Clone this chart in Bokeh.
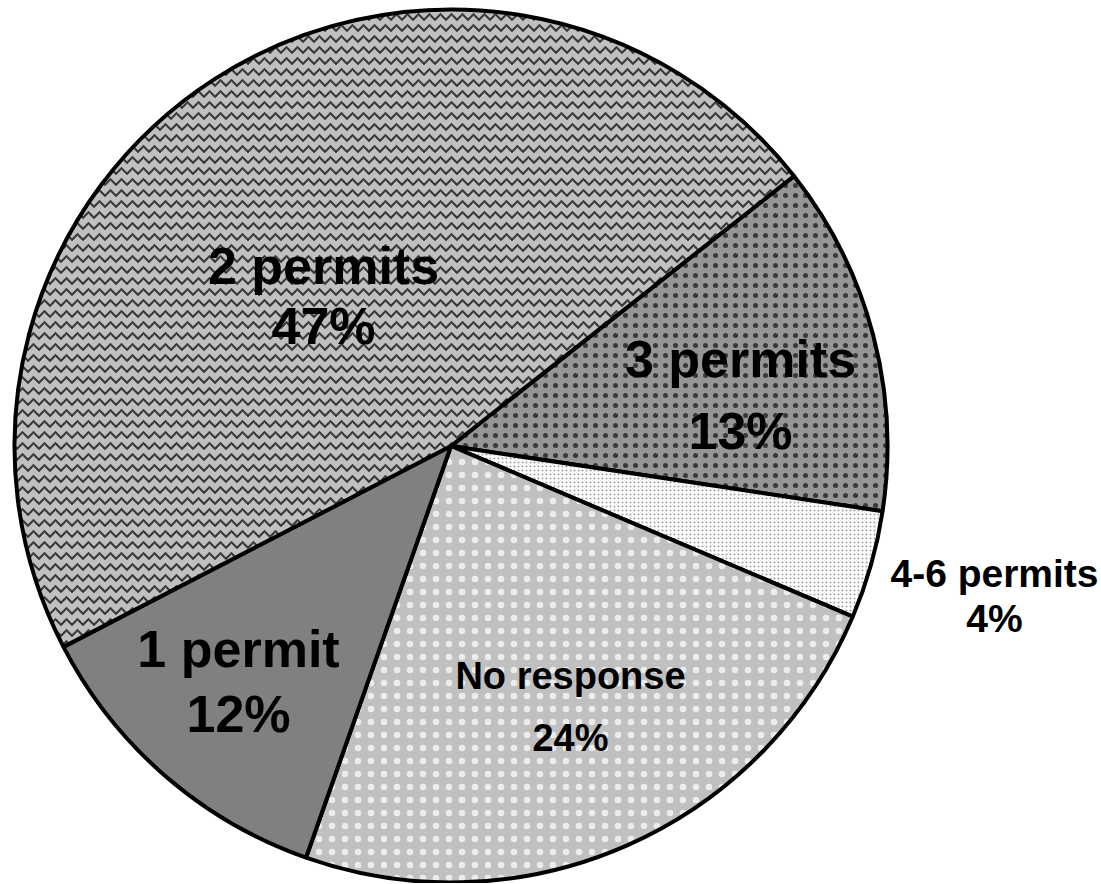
import math
from bokeh.plotting import figure
from bokeh.models import Range1d
from bokeh.core.properties import value
from bokeh.embed import file_html
from bokeh.resources import INLINE

# Data (clockwise order starting at the top-right boundary)
categories = ["3 permits", "4-6 permits", "No response", "1 permit", "2 permits"]
shares = [13, 4, 24, 12, 47]
pct_labels = ["13%", "4%", "24%", "12%", "47%"]

W, H = 1100, 883
TOT_H = 884
p = figure(width=W, height=H, output_backend="svg", toolbar_location=None,
           x_range=Range1d(0, W), y_range=Range1d(TOT_H - H, TOT_H),
           min_border=0, outline_line_color=None)
p.axis.visible = False
p.grid.visible = False
p.background_fill_color = "white"

cx, cy, r = 450.5, TOT_H - 445.5, 436.5
start_deg = 38.2

styles = {
    "3 permits": dict(fill_color="#969696", hatch_pattern="dot", hatch_color="#383838", hatch_scale=10, hatch_weight=1.0),
    "4-6 permits": dict(fill_color="#ffffff", hatch_pattern="dot", hatch_color="#a0a0a0", hatch_scale=4, hatch_weight=1.2),
    "No response": dict(fill_color="#c0c0c0", hatch_pattern="dot", hatch_color="#ececec", hatch_scale=13, hatch_weight=1.0),
    "1 permit": dict(fill_color="#808080"),
    "2 permits": dict(fill_color="#c0c0c0", hatch_pattern="horizontal_wave", hatch_color="#383838", hatch_scale=11, hatch_weight=2.0),
}

total = sum(shares)
ang = math.radians(start_deg)
for cat, s in zip(categories, shares):
    end = ang - s / total * 2 * math.pi
    p.wedge(x=cx, y=cy, radius=r, start_angle=end, end_angle=ang, direction="anticlock",
            line_color="black", line_width=4, **styles[cat])
    ang = end

# Labels
label_x = [740, 994, 570, 238, 323]
name_y = [358, 573, 675, 648, 265]
pct_y = [430, 618, 737, 713, 325]
sizes = ["52px", "39px", "38px", "52px", "52px"]
for i in range(len(categories)):
    for txt, yy in ((categories[i], name_y[i]), (pct_labels[i], pct_y[i])):
        p.text(x=[label_x[i]], y=[TOT_H - yy], text=[txt], text_align="center",
               text_baseline="middle", text_font=value("Liberation Sans"),
               text_font_style="bold", text_font_size=sizes[i], text_color="black")

open("out.html", "w").write(file_html(p, INLINE))
